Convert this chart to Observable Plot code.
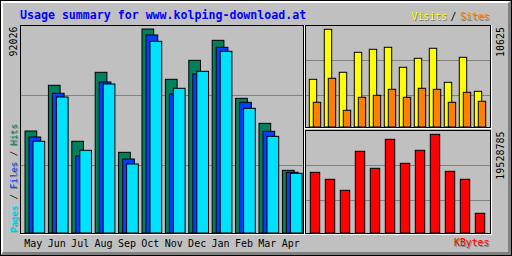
<!DOCTYPE html>
<html>
<head>
<meta charset="utf-8">
<script src="https://cdn.jsdelivr.net/npm/d3@7"></script>
<script src="https://cdn.jsdelivr.net/npm/@observablehq/plot@0.6"></script>
<style>
html, body { margin: 0; padding: 0; background: #c0c0c0; }
#chart { position: relative; width: 512px; height: 256px; overflow: hidden; background: #c0c0c0; font-family: "DejaVu Sans Mono", monospace; }
#outer { position: absolute; left: 0; top: 0; width: 512px; height: 256px; box-sizing: border-box; border: 1px solid #000; }
#bevel { position: absolute; left: 1px; top: 1px; width: 510px; height: 254px; box-sizing: border-box;
  border-top: 2px solid #fff; border-left: 2px solid #fff; border-right: 3px solid #808080; border-bottom: 3px solid #808080; }
.panel { position: absolute; box-sizing: border-box; border-right: 1px solid #fff; border-bottom: 1px solid #fff; }
.layer { position: absolute; left: 0; top: 0; width: 512px; height: 256px; }
.layer svg { display: block; }
</style>
</head>
<body>
<div id="chart">
  <div id="outer"></div>
  <div id="bevel"></div>
  <div class="panel" style="left:20px;top:25px;width:285px;height:210px;"></div>
  <div class="panel" style="left:305px;top:25px;width:187px;height:104px;"></div>
  <div class="panel" style="left:305px;top:130px;width:187px;height:105px;"></div>
</div>
<script>
// ---- data ----
const title = "Usage summary for www.kolping-download.at";
const months = ["May","Jun","Jul","Aug","Sep","Oct","Nov","Dec","Jan","Feb","Mar","Apr"];
const hits   = [46010, 66630, 41370, 72490, 36400, 92026, 69330, 77900, 86920, 60750, 49470, 28270];
const files  = [43310, 63020, 34740, 68120, 33380, 89320, 62700, 71730, 83760, 58950, 45870, 27380];
const pages  = [41370, 61350, 37300, 67220, 31130, 86470, 65270, 72940, 81960, 56240, 43600, 26920];
const visits = [5187, 10625, 5949, 8124, 8450, 8668, 6492, 7471, 8559, 4861, 7580, 3882];
const sites  = [2686, 5296, 1816, 3230, 3447, 4100, 3230, 4209, 4100, 2686, 3774, 2795];
const kbytes = [12010000, 10625000, 8449000, 16165000, 12802000, 18540000, 13791000, 16363000, 19528785, 12208000, 10625000, 3898000];

const rows = months.map((m, i) => ({month: m, hits: hits[i], files: files[i], pages: pages[i],
  visits: visits[i], sites: sites[i], kbytes: kbytes[i]}));

const C = {hits: "#00805c", files: "#0040ff", pages: "#00e0ff", visits: "#ffff00",
  sites: "#ff8000", kbytes: "#ff0000", grid: "#808080", shadow: "#808080", title: "#0000ff"};
const FONT = "DejaVu Sans Mono, monospace";
const W = 512, H = 256;
const chart = document.getElementById("chart");
function place(svg) { const d = document.createElement("div"); d.className = "layer"; d.appendChild(svg); chart.appendChild(d); }

// ---- main panel: hits / files / pages ----
const maxHits = d3.max(hits);
const yMain = maxHits * 208 / 204;
place(Plot.plot({
  width: W, height: H,
  marginLeft: 20, marginRight: W - 303, marginTop: 25, marginBottom: H - 233,
  style: {background: "transparent", overflow: "visible"},
  x: {type: "band", domain: months, paddingInner: 0.5, paddingOuter: 0.297, align: 0.36, round: false, axis: null},
  y: {domain: [0, yMain], axis: null},
  marks: [
    Plot.ruleY([yMain * 0.3269, yMain * 0.6635], {stroke: C.grid}),
    Plot.barY(rows, {x: "month", y: "hits", fill: C.hits, stroke: "#000"}),
    Plot.barY(rows, {x: "month", y: "files", fill: C.files, stroke: "#000", dx: 4}),
    Plot.barY(rows, {x: "month", y: "pages", fill: C.pages, stroke: "#000", dx: 8}),
    Plot.frame({stroke: "#000"}),
    Plot.text(months, {x: d => d, frameAnchor: "bottom", lineAnchor: "bottom", dy: 13, dx: 2,
      fontSize: 10, fontFamily: FONT, fill: "#000"})
  ]
}));

// ---- top right: visits / sites ----
const maxVisits = d3.max(visits);
const yVis = maxVisits * 102 / 97.7;
place(Plot.plot({
  width: W, height: H,
  marginLeft: 305, marginRight: W - 490, marginTop: 25, marginBottom: H - 127,
  style: {background: "transparent", overflow: "visible"},
  x: {type: "band", domain: months, paddingInner: 0.507, paddingOuter: 0.42, align: 0.34, round: false, axis: null},
  y: {domain: [0, yVis], axis: null},
  marks: [
    Plot.ruleY([yVis * 0.3137, yVis * 0.6569], {stroke: C.grid}),
    Plot.barY(rows, {x: "month", y: "visits", fill: C.visits, stroke: "#000"}),
    Plot.barY(rows, {x: "month", y: "sites", fill: C.sites, stroke: "#000", dx: 4}),
    Plot.frame({stroke: "#000"})
  ]
}));

// ---- bottom right: kbytes ----
const maxK = d3.max(kbytes);
const yK = maxK * 103 / 98.7;
place(Plot.plot({
  width: W, height: H,
  marginLeft: 305, marginRight: W - 490, marginTop: 130, marginBottom: H - 233,
  style: {background: "transparent", overflow: "visible"},
  x: {type: "band", domain: months, paddingInner: 0.373, paddingOuter: 0.353, align: 0.5, round: false, axis: null},
  y: {domain: [0, yK], axis: null},
  marks: [
    Plot.ruleY([yK * 0.320, yK * 0.660], {stroke: C.grid}),
    Plot.barY(rows, {x: "month", y: "kbytes", fill: C.kbytes, stroke: "#000"}),
    Plot.frame({stroke: "#000"})
  ]
}));

// ---- text layer ----
const svg = d3.create("svg").attr("width", W).attr("height", H)
  .style("font-family", FONT).style("overflow", "visible");

svg.append("text").attr("x", 20).attr("y", 19).attr("fill", C.title)
  .attr("font-size", 11.6).attr("font-weight", "bold").text(title);

function up(x, y, anchor, size, parts, withShadow) {
  const draw = (dx, dy, shadow) => {
    const t = svg.append("text")
      .attr("transform", `translate(${x + dx},${y + dy}) rotate(-90)`)
      .attr("text-anchor", anchor).attr("font-size", size);
    parts.forEach(([s, col]) => {
      t.append("tspan").attr("fill", shadow ? (col === "#000" ? "none" : C.shadow) : col).text(s);
    });
  };
  if (withShadow) draw(1, 1, true);
  draw(0, 0, false);
}
up(17, 26.5, "end", 10, [[String(maxHits), "#000"]], false);
up(17, 232, "start", 9, [["Pages", C.pages], [" / ", "#000"], ["Files", C.files], [" / ", "#000"], ["Hits", C.hits]], true);
up(504, 27, "end", 10, [[String(maxVisits), "#000"]], false);
up(504, 131.5, "end", 10, [[String(maxK), "#000"]], false);

function label(x, y, s, col, shadow) {
  if (shadow) svg.append("text").attr("x", x + 1).attr("y", y + 1).attr("font-size", 9.8).attr("fill", C.shadow).text(s);
  svg.append("text").attr("x", x).attr("y", y).attr("font-size", 9.8).attr("fill", col).text(s);
}
label(411.5, 20, "Visits", C.visits, true);
label(450.5, 20, "/", "#000", false);
label(460, 20, "Sites", C.sites, true);
label(454, 246, "KBytes", C.kbytes, true);

place(svg.node());
</script>
</body>
</html>
